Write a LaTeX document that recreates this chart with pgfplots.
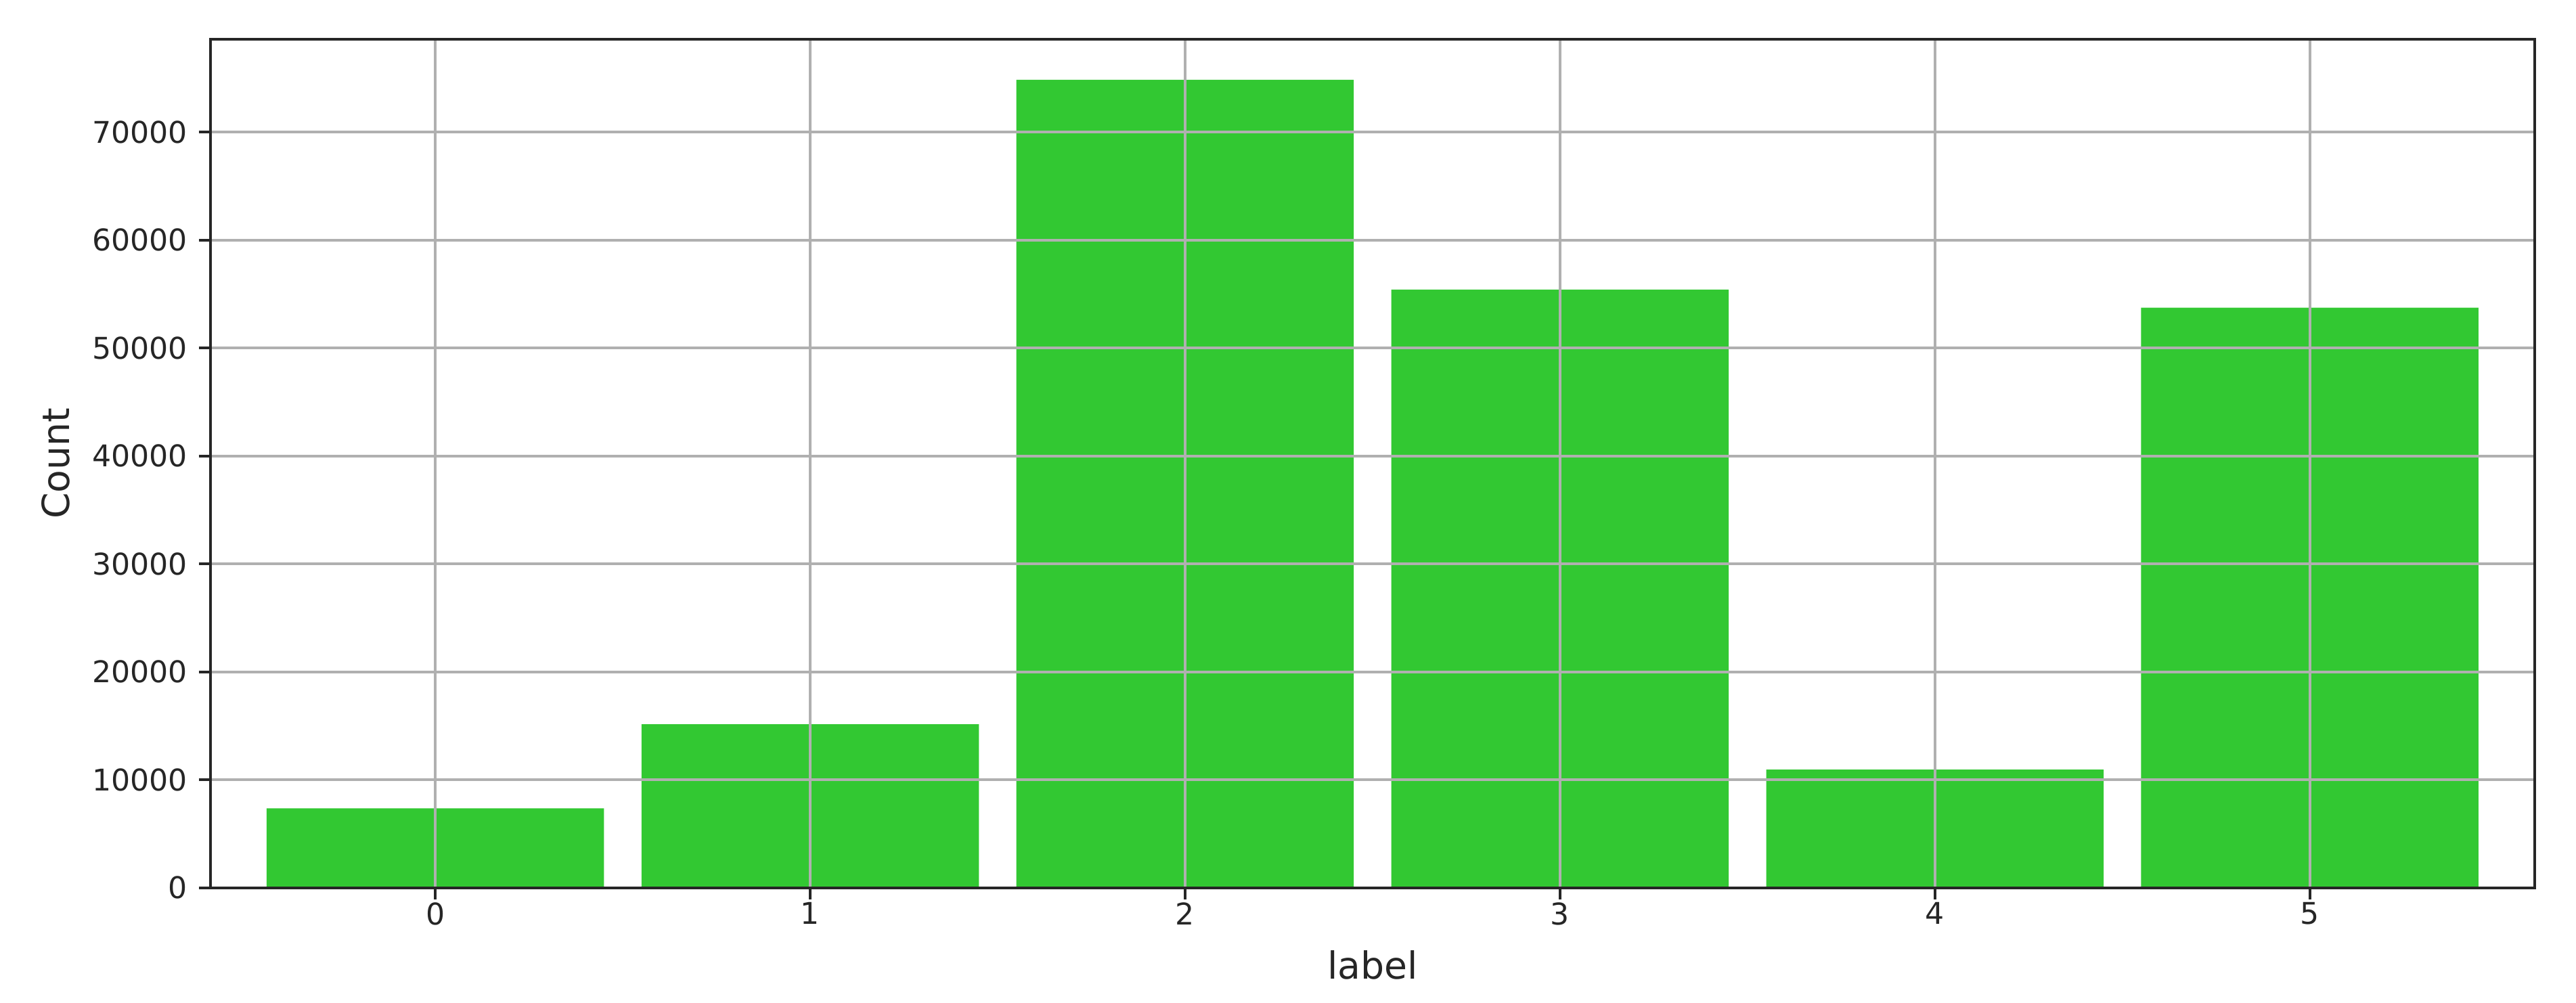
\documentclass[border=0pt]{standalone}
\usepackage{fontspec}
\setmainfont{DejaVu Sans}
\usepackage{pgfplots}
\pgfplotsset{compat=1.18}
\definecolor{barg}{RGB}{50,200,50}
\definecolor{gridg}{RGB}{176,176,176}
\definecolor{axk}{RGB}{38,38,38}
\begin{document}
\begin{tikzpicture}
\begin{axis}[name=ax, scale only axis, width=715pt, height=261pt,
  xmin=-0.6, xmax=5.6, ymin=0, ymax=78600,
  xtick={0,1,2,3,4,5}, ytick={0,10000,20000,30000,40000,50000,60000,70000},
  scaled y ticks=false,
  /pgf/number format/assume math mode=true,
  yticklabel style={/pgf/number format/fixed,/pgf/number format/1000 sep={}},
  xticklabel style={yshift=2.5pt},
  tick label style={font=\fontsize{9.2}{11}\selectfont, text=axk},
  label style={font=\fontsize{11.5}{14}\selectfont, text=axk},
  xlabel={label}, ylabel={Count},
  xlabel style={yshift=-1pt},
  grid=major, grid style={gridg, line width=0.8pt},
  axis line style={line width=0.8pt, axk},
  tick style={line width=0.8pt, axk},
  tick align=outside, major tick length=3.5pt, tick pos=left,
  axis on top]
\addplot[ybar, bar width=0.9, fill=barg, draw=none] coordinates {(0,7360) (1,15156) (2,74855) (3,55410) (4,10955) (5,53734)};
\end{axis}
\path ([xshift=-64.7pt,yshift=-35.4pt]ax.south west) rectangle ([xshift=12.7pt,yshift=12.1pt]ax.north east);
\end{tikzpicture}
\end{document}
